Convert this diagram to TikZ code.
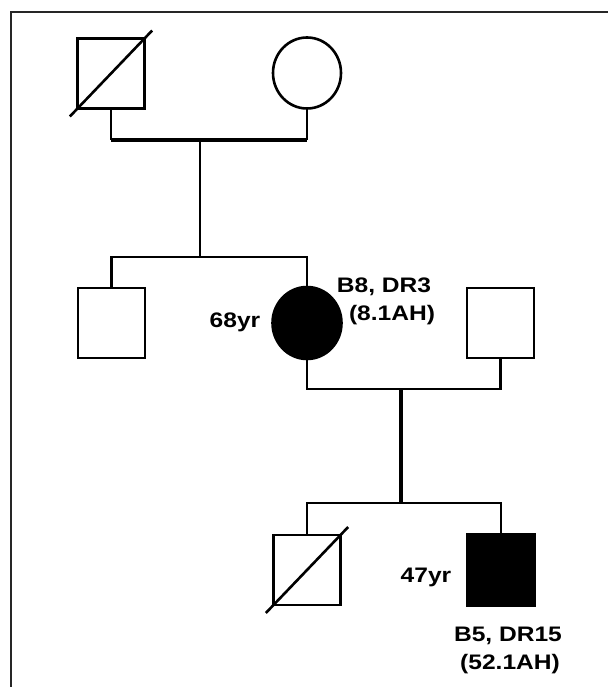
\documentclass[tikz,border=0pt]{standalone}
\usepackage{fontspec}
\setmainfont{Liberation Sans}
\newfontfamily\labfont[FakeStretch=1.17]{Liberation Sans}
\usetikzlibrary{shapes.geometric}
\begin{document}
\begin{tikzpicture}[x=1pt,y=-1pt,
  person/.style={draw=black, line width=2.6pt, inner sep=0pt, outer sep=0pt},
  male/.style={person, rectangle, minimum width=67pt, minimum height=70pt},
  female/.style={person, ellipse, minimum width=68pt, minimum height=71pt},
  affected/.style={fill=black},
  link/.style={line width=2.6pt},
  marriage/.style={line width=4.2pt},
  dropline/.style={line width=3.2pt},
  deceased/.style={line width=2.6pt, shorten <=-11pt, shorten >=-11pt},
  lab/.style={font=\labfont\bfseries\fontsize{21}{24}\selectfont, inner sep=0pt, anchor=base},
  frameline/.style={line width=2pt, draw=black!85}
]
\useasboundingbox (0,0) rectangle (608,687);
\fill[white] (0,0) rectangle (608,687);
\draw[frameline] (11,687) -- (11,12) -- (608,12);

% generation I
\node[male] (gf) at (111,73.5) {};
\node[female] (gm) at (307,73) {};
% generation II
\node[male] (u1) at (111.5,323) {};
\node[female, affected, minimum width=69pt, minimum height=72pt] (m) at (307,323) {};
\node[male] (f) at (500.5,323) {};
% generation III
\node[male] (s1) at (307,570) {};
\node[male, affected, minimum height=72pt] (p) at (501,570) {};

% coordinates of line junctions
\coordinate (mar1) at (200,140);
\coordinate (sib1) at (200,257);
\coordinate (mar2) at (401,389);
\coordinate (sib2) at (401,503);

% deceased slashes
\draw[deceased] (gf.south west) -- (gf.north east);
\draw[deceased] (s1.south west) -- (s1.north east);

% marriage I
\draw[link] (gf.south) -- (gf.south |- mar1);
\draw[link] (gm.south) -- (gm.south |- mar1);
\draw[marriage] (gf.south |- mar1) -- (gm.south |- mar1);
\draw[link] (mar1) -- (sib1);
\draw[link] (u1.north) -- (u1.north |- sib1) -- (m.north |- sib1) -- (m.north);

% marriage II
\draw[link] (m.south) -- (m.south |- mar2) -- (f.south |- mar2) -- (f.south);
\draw[dropline] (mar2) -- (sib2);
\draw[link] (s1.north) -- (s1.north |- sib2) -- (p.north |- sib2) -- (p.north);

% labels
\node[lab] (ta) at (384,292) {B8, DR3};
\node[lab] (tb) at (392,320) {(8.1AH)};
\node[lab] (tc) at (235,327) {68yr};
\node[lab] (td) at (426,582) {47yr};
\node[lab] (te) at (508,641) {B5, DR15};
\node[lab] (tf) at (510,669) {(52.1AH)};
\end{tikzpicture}
\end{document}
